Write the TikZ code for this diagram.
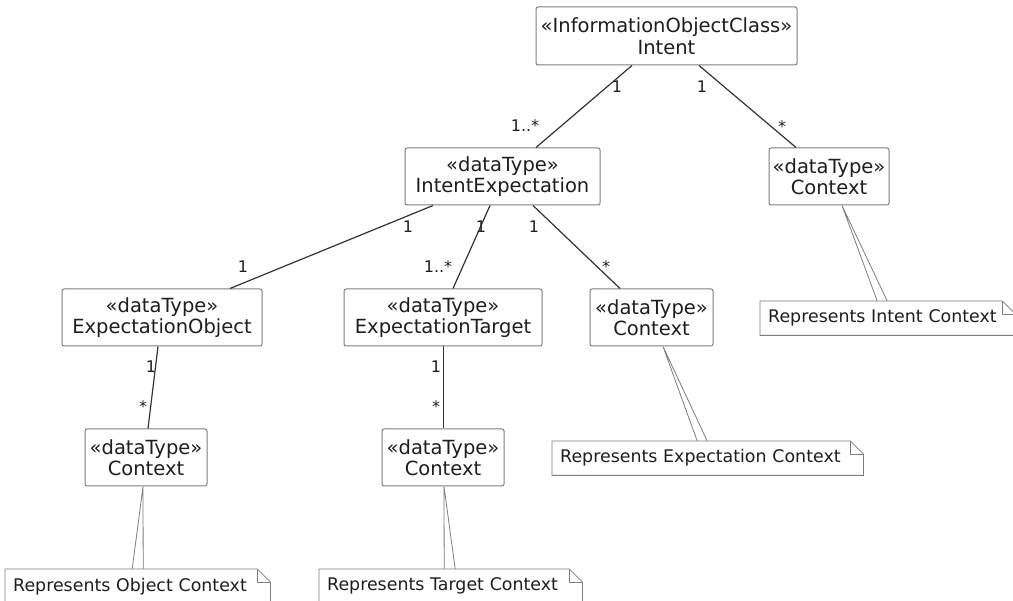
\documentclass[tikz,border=0pt]{standalone}
\usepackage{xcolor}
\usepackage{fontspec}
\setmainfont{DejaVu Sans}
\usepackage{tikz}
\usetikzlibrary{positioning}

\definecolor{umlline}{HTML}{333333}
\definecolor{umlframe}{HTML}{7E7E7E}
\definecolor{umltext}{HTML}{1E1E1E}

\tikzset{
  classbox/.style={draw=umlframe, line width=1pt, rounded corners=2pt, fill=white,
    align=center, text=umltext, font=\fontsize{19.5}{21.5}\selectfont,
    minimum height=57pt, inner sep=0pt},
  assoc/.style={draw=umlline, line width=1.2pt},
  mult/.style={anchor=base, text=umltext, font=\fontsize{16}{18}\selectfont, inner sep=0pt},
  notebox/.style={anchor=north west, text=umltext, font=\fontsize{17.4}{20}\selectfont,
    align=left, inner xsep=8pt, inner ysep=0pt, minimum height=34pt},
  noteline/.style={draw=umlframe, line width=0.8pt},
  notelink/.style={draw=umlframe, line width=0.8pt}
}

% outline of a note with its folded corner
\newcommand{\dogear}[1]{%
  \draw[noteline] (#1.north west) -- ([xshift=-13pt]#1.north east)
    -- ([yshift=-13pt]#1.north east) -- (#1.south east) -- (#1.south west) -- cycle;
  \draw[noteline] ([xshift=-13pt]#1.north east) |- ([yshift=-13pt]#1.north east);}

\begin{document}
\begin{tikzpicture}[x=1pt, y=-1pt]
  \useasboundingbox (0,0) rectangle (1013,601);

  % classes
  \node[classbox, minimum width=261pt, minimum height=58pt] (intent) at (666.5,36) {«InformationObjectClass»\\Intent};
  \node[classbox, minimum width=195pt] (ie) at (502.5,176.5) {«dataType»\\IntentExpectation};
  \node[classbox, minimum width=120pt] (ctxI) at (829,176.5) {«dataType»\\Context};
  \node[classbox, minimum width=200pt] (eo) at (162,317.5) {«dataType»\\ExpectationObject};
  \node[classbox, minimum width=198pt] (et) at (443,317.5) {«dataType»\\ExpectationTarget};
  \node[classbox, minimum width=123pt] (ctxE) at (651.5,317.5) {«dataType»\\Context};
  \node[classbox, minimum width=122pt] (ctxO) at (146,457.5) {«dataType»\\Context};
  \node[classbox, minimum width=122pt] (ctxT) at (443,457.5) {«dataType»\\Context};

  % associations
  \draw[assoc] ([xshift=-34.5pt]intent.south) -- ([xshift=33.5pt]ie.north);
  \draw[assoc] ([xshift=32.5pt]intent.south) -- ([xshift=-33pt]ctxI.north);
  \draw[assoc] ([xshift=-69.5pt]ie.south) -- ([xshift=68pt]eo.north);
  \draw[assoc] ([xshift=-12.5pt]ie.south) -- ([xshift=10pt]et.north);
  \draw[assoc] ([xshift=30.5pt]ie.south) -- ([xshift=-31.5pt]ctxE.north);
  \draw[assoc] ([xshift=-4pt]eo.south) -- ([xshift=2pt]ctxO.north);
  \draw[assoc] ([xshift=0.5pt]et.south) -- ([xshift=0.5pt]ctxT.north);

  % multiplicities
  \node[mult] (m1) at (617,93) {1};
  \node[mult] (m2) at (525,132) {1..*};
  \node[mult] (m3) at (702,93) {1};
  \node[mult] (m4) at (782,133) {*};
  \node[mult] (m5) at (408,233) {1};
  \node[mult] (m6) at (243,273) {1};
  \node[mult] (m7) at (481,233) {1};
  \node[mult] (m8) at (438,273) {1..*};
  \node[mult] (m9) at (534,233) {1};
  \node[mult] (m10) at (606,273) {*};
  \node[mult] (m11) at (151,373) {1};
  \node[mult] (m12) at (143,413) {*};
  \node[mult] (m13) at (436,373) {1};
  \node[mult] (m14) at (436,413) {*};

  % notes
  \node[notebox, text width=239pt] (noteI) at (760,301) {Represents Intent Context};
  \node[notebox, text width=295pt] (noteE) at (552,441) {Represents Expectation Context};
  \node[notebox, text width=249pt] (noteO) at (5,569) {Represents Object Context};
  \node[notebox, text width=247pt] (noteT) at (319,569) {Represents Target Context};
  \dogear{noteI}
  \dogear{noteE}
  \dogear{noteO}
  \dogear{noteT}

  % note links
  \draw[notelink] ([xshift=-10.5pt]noteI.north) -- ([xshift=13pt]ctxI.south) -- ([xshift=-0.5pt]noteI.north);
  \draw[notelink] ([xshift=-10.5pt]noteE.north) -- ([xshift=11.5pt]ctxE.south) -- ([xshift=-0.5pt]noteE.north);
  \draw[notelink] ([xshift=-5.5pt]noteO.north) -- ([xshift=-3pt]ctxO.south) -- ([xshift=5.5pt]noteO.north);
  \draw[notelink] ([xshift=-6.5pt]noteT.north) -- ([xshift=1pt]ctxT.south) -- ([xshift=4.5pt]noteT.north);
\end{tikzpicture}
\end{document}
